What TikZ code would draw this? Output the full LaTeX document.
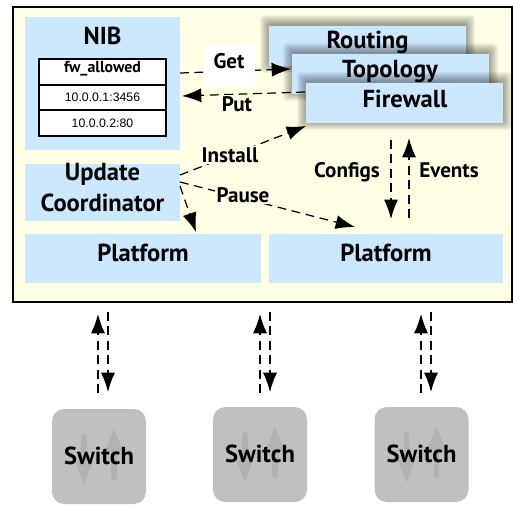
\documentclass[tikz,border=0pt]{standalone}
\usepackage{fontspec}
\setmainfont{PT Sans}
\newfontfamily\tablefont{Liberation Sans}
\usetikzlibrary{arrows.meta}
\definecolor{panel}{HTML}{FFFFE6}
\definecolor{boxblue}{HTML}{CCE8FF}
\definecolor{switchgray}{HTML}{BEC1C0}
\definecolor{markgray}{HTML}{B0B3B2}
\newlength{\pxlen}
\setlength{\pxlen}{0.02cm}
\newcommand{\softshadow}[4]{%
    \foreach \grow in {9,8,7,6,5,4,3,2,1,0}
        \fill[black, opacity=0.045, rounded corners=2pt]
            (#1-\grow,#2-\grow-2) rectangle (#3+\grow,#4+\grow-2);
}
\tikzset{
    bluebox/.style={fill=boxblue, inner sep=0pt},
    boxlabel/.style={font=\fontsize{14}{15}\selectfont\bfseries, inner sep=0pt, text height=9.3pt, text depth=0pt},
    flowlabel/.style={font=\fontsize{12}{13}\selectfont\bfseries, inner sep=1pt, text height=8pt, text depth=0pt},
    tablecell/.style={draw=black, line width=0.6pt, fill=white, minimum width=127\pxlen, inner sep=0pt,
        font=\tablefont\fontsize{7}{9}\selectfont},
    switchbox/.style={fill=switchgray, rounded corners=7pt, minimum width=94\pxlen, minimum height=95\pxlen, inner sep=0pt},
    flow/.style={dashed, dash pattern=on 5pt off 3.2pt, line width=0.7pt, -{Latex[length=11pt,width=8pt]}},
    switchmark/.style={markgray, line width=3pt, line cap=round}
}
\begin{document}
\begin{tikzpicture}[x=0.02cm, y=-0.02cm]
    \useasboundingbox (0,0) rectangle (513,504);
    \node[draw=black, line width=0.75pt, fill=panel, minimum width=499\pxlen, minimum height=295\pxlen, inner sep=0pt] (controller) at (262.5,154.5) {};

    % left column
    \node[bluebox, minimum width=155\pxlen, minimum height=133\pxlen] (nib) at (102.5,83.5) {};
    \node[boxlabel] (nibtitle) at (102.5,36.5) {NIB};
    \node[tablecell, minimum height=26\pxlen] (fwallowed) at (102.5,72) {};
    \node[font=\fontsize{9}{10}\selectfont\bfseries, inner sep=1pt] (fwtext) at (102.5,68.5) {fw\_allowed};
    \node[tablecell, minimum height=25\pxlen] (entryone) at (102.5,97.5) {10.0.0.1:3456};
    \node[tablecell, minimum height=26\pxlen] (entrytwo) at (102.5,123) {10.0.0.2:80};
    \node[bluebox, minimum width=155\pxlen, minimum height=57\pxlen] (coordinator) at (102.5,192.5) {};
    \node[boxlabel] (updatetext) at (102.5,172.5) {Update};
    \node[boxlabel] (coordtext) at (102.5,203.5) {Coordinator};

    % platforms
    \node[bluebox, minimum width=236\pxlen, minimum height=49\pxlen] (platformone) at (143,258.5) {};
    \node[boxlabel] at (143,253.5) {Platform};
    \node[bluebox, minimum width=234\pxlen, minimum height=49\pxlen] (platformtwo) at (386,258.5) {};
    \node[boxlabel] at (386,253.5) {Platform};

    % stacked applications
    \softshadow{269}{26}{466}{66}
    \node[bluebox, minimum width=197\pxlen, minimum height=40\pxlen] (routing) at (367.5,46) {};
    \node[boxlabel] at (367.5,40.5) {Routing};
    \softshadow{292}{54}{489}{94}
    \node[bluebox, minimum width=197\pxlen, minimum height=40\pxlen] (topology) at (390.5,74) {};
    \node[boxlabel] at (390,69) {Topology};
    \softshadow{306}{83}{503}{123}
    \node[bluebox, minimum width=197\pxlen, minimum height=40\pxlen] (firewall) at (404.5,103) {};
    \node[boxlabel] at (405,99) {Firewall};

    % named ends
    \coordinate (getfrom) at (180,73);
    \coordinate (getto) at (291,69);
    \coordinate (putfrom) at (305,92);
    \coordinate (putto) at (182,96);
    \coordinate (installfrom) at (180,175);
    \coordinate (installto) at (306,126);
    \coordinate (pausefrom) at (180,182);
    \coordinate (pauseto) at (355,227);
    \coordinate (localfrom) at (180,186);
    \coordinate (localto) at (196,232);
    \draw[flow] (getfrom) -- (getto);
    \draw[flow] (putfrom) -- (putto);
    \draw[flow] (installfrom) -- (installto);
    \draw[flow] (pausefrom) -- (pauseto);
    \draw[flow] (localfrom) -- (localto);
    \node[fill=white, minimum width=51\pxlen, minimum height=43\pxlen, inner sep=0pt] (getbox) at (229.5,66.5) {};
    \node[flowlabel] at (229,61.5) {Get};
    \node[flowlabel, fill=panel] at (237,104) {Put};
    \node[flowlabel, fill=panel] at (230,155) {Install};
    \node[flowlabel, fill=panel] at (243,195) {Pause};

    \coordinate (configfrom) at (391,140);
    \coordinate (configto) at (391,219);
    \coordinate (eventfrom) at (409,218);
    \coordinate (eventto) at (409,138);
    \draw[flow] (configfrom) -- (configto);
    \draw[flow] (eventfrom) -- (eventto);
    \node[flowlabel] at (347,170) {Configs};
    \node[flowlabel] at (449,170) {Events};

    % switches
    \foreach \name/\cx/\cy/\ax in {a/99/456.5/98, b/260/454.5/260, c/421.5/454.5/421}{
        \node[switchbox] (switch\name) at (\cx,\cy) {};
        \draw[switchmark] (\cx-15,\cy-20) -- (\cx-15,\cy+5);
        \fill[markgray] (\cx-24,\cy+5) -- (\cx-6,\cy+5) -- (\cx-15,\cy+28) -- cycle;
        \draw[switchmark] (\cx+15,\cy+21) -- (\cx+15,\cy-5);
        \fill[markgray] (\cx+6,\cy-5) -- (\cx+24,\cy-5) -- (\cx+15,\cy-28) -- cycle;
        \node[boxlabel] at (\cx,\cy) {Switch};
        \coordinate (upfrom\name) at (\ax,393);
        \coordinate (upto\name) at (\ax,314);
        \coordinate (downfrom\name) at (\ax+10,312);
        \coordinate (downto\name) at (\ax+10,392);
        \draw[flow] (upfrom\name) -- (upto\name);
        \draw[flow] (downfrom\name) -- (downto\name);
    }
\end{tikzpicture}
\end{document}
